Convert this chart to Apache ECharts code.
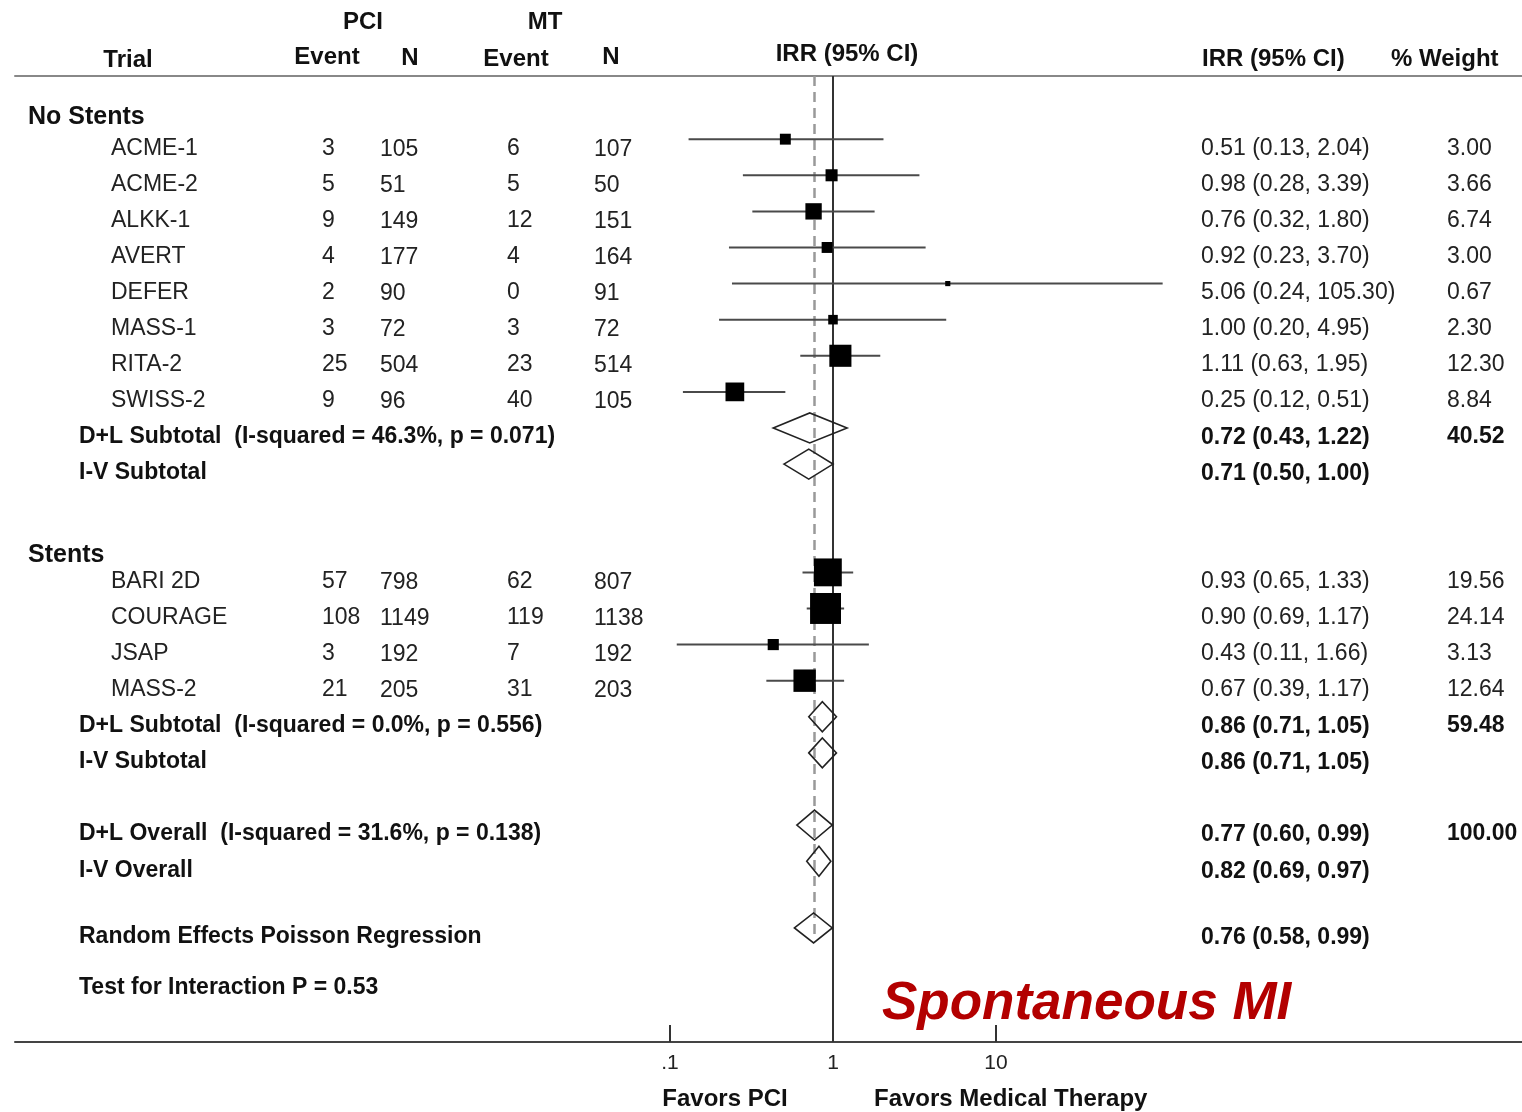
<!DOCTYPE html>
<html>
<head>
<meta charset="utf-8">
<script src="https://cdn.jsdelivr.net/npm/echarts@6/dist/echarts.min.js"></script>
<style>
  html, body { margin: 0; padding: 0; background: #fff; }
  #main { width: 1522px; height: 1112px; }
</style>
</head>
<body>
<div id="main"></div>
<script>
// ---- Trials without stents ----
const noStentTrials  = ['ACME-1', 'ACME-2', 'ALKK-1', 'AVERT', 'DEFER', 'MASS-1', 'RITA-2', 'SWISS-2'];
const noStentPciEvt  = [3, 5, 9, 4, 2, 3, 25, 9];
const noStentPciN    = [105, 51, 149, 177, 90, 72, 504, 96];
const noStentMtEvt   = [6, 5, 12, 4, 0, 3, 23, 40];
const noStentMtN     = [107, 50, 151, 164, 91, 72, 514, 105];
const noStentIrr     = [0.51, 0.98, 0.76, 0.92, 5.06, 1.00, 1.11, 0.25];
const noStentLo      = [0.13, 0.28, 0.32, 0.23, 0.24, 0.20, 0.63, 0.12];
const noStentHi      = [2.04, 3.39, 1.80, 3.70, 105.30, 4.95, 1.95, 0.51];
const noStentWeight  = [3.00, 3.66, 6.74, 3.00, 0.67, 2.30, 12.30, 8.84];

// ---- Trials with stents ----
const stentTrials    = ['BARI 2D', 'COURAGE', 'JSAP', 'MASS-2'];
const stentPciEvt    = [57, 108, 3, 21];
const stentPciN      = [798, 1149, 192, 205];
const stentMtEvt     = [62, 119, 7, 31];
const stentMtN       = [807, 1138, 192, 203];
const stentIrr       = [0.93, 0.90, 0.43, 0.67];
const stentLo        = [0.65, 0.69, 0.11, 0.39];
const stentHi        = [1.33, 1.17, 1.66, 1.17];
const stentWeight    = [19.56, 24.14, 3.13, 12.64];

// ---- Pooled estimates ----
const pooledLabels = [
  'D+L Subtotal  (I-squared = 46.3%, p = 0.071)',
  'I-V Subtotal',
  'D+L Subtotal  (I-squared = 0.0%, p = 0.556)',
  'I-V Subtotal',
  'D+L Overall  (I-squared = 31.6%, p = 0.138)',
  'I-V Overall',
  'Random Effects Poisson Regression'
];
const pooledIrr    = [0.72, 0.71, 0.86, 0.86, 0.77, 0.82, 0.76];
const pooledLo     = [0.43, 0.50, 0.71, 0.71, 0.60, 0.69, 0.58];
const pooledHi     = [1.22, 1.00, 1.05, 1.05, 0.99, 0.97, 0.99];
const pooledWeight = [40.52, null, 59.48, null, 100.00, null, null];

const interactionText = 'Test for Interaction P = 0.53';
const axisTickValues  = [0.1, 1, 10];
const axisTickLabels  = ['.1', '1', '10'];

// ---- Layout ----
const W = 1522, H = 1112;
const TOP = 76, AXIS_Y = 1042, ROW_PX = 36.1;
const PX_PER_DECADE = 163, X_TENTH = 670, X_TEN = 996, GRID_L = 15;
const yMax = (AXIS_Y - TOP) / ROW_PX;
const xMin = Math.pow(10, -1 - (X_TENTH - GRID_L) / PX_PER_DECADE);
const xMax = Math.pow(10, 1 + (W - X_TEN) / PX_PER_DECADE);

const noStentRow = i => 1.75 + i;
const stentRow = i => 13.75 + i;
const pooledRows = [9.75, 10.75, 17.75, 18.75, 20.75, 21.75, 23.6];
const TEXT_DY = 9;

const FONT = '"Liberation Sans", Arial, Helvetica, sans-serif';
const fmt = v => v.toFixed(2);
const ciText = (e, l, h) => `${fmt(e)} (${fmt(l)}, ${fmt(h)})`;

// Collect trial rows
const trialRows = [];
noStentTrials.forEach((t, i) => trialRows.push({
  name: t, pe: noStentPciEvt[i], pn: noStentPciN[i], me: noStentMtEvt[i], mn: noStentMtN[i],
  irr: noStentIrr[i], lo: noStentLo[i], hi: noStentHi[i], w: noStentWeight[i], row: noStentRow(i)
}));
stentTrials.forEach((t, i) => trialRows.push({
  name: t, pe: stentPciEvt[i], pn: stentPciN[i], me: stentMtEvt[i], mn: stentMtN[i],
  irr: stentIrr[i], lo: stentLo[i], hi: stentHi[i], w: stentWeight[i], row: stentRow(i)
}));

const chart = echarts.init(document.getElementById('main'), null, { renderer: 'canvas' });

const nearestTickLabel = v => {
  let best = 0, bd = Infinity;
  axisTickValues.forEach((t, i) => {
    const d = Math.abs(Math.log10(v) - Math.log10(t));
    if (d < bd) { bd = d; best = i; }
  });
  return axisTickLabels[best];
};

chart.setOption({
  animation: false,
  backgroundColor: '#fff',
  grid: { left: GRID_L, right: 0, top: TOP, bottom: H - AXIS_Y },
  xAxis: [{
    type: 'log', logBase: 10, min: xMin, max: xMax, position: 'bottom',
    axisLine: { show: true, onZero: false, lineStyle: { color: '#444', width: 2 } },
    axisTick: { show: true, inside: true, length: 17, customValues: axisTickValues,
                lineStyle: { color: '#333', width: 2 } },
    axisLabel: { show: true, customValues: axisTickValues, formatter: nearestTickLabel,
                 fontFamily: FONT, fontSize: 21, color: '#222', margin: 11 },
    splitLine: { show: false }, minorTick: { show: false }
  }, {
    type: 'log', logBase: 10, min: xMin, max: xMax, position: 'top',
    axisLine: { show: true, onZero: false, lineStyle: { color: '#888', width: 2 } },
    axisTick: { show: false }, axisLabel: { show: false }, splitLine: { show: false }
  }],
  yAxis: { type: 'value', inverse: true, min: 0, max: yMax, show: false },
  series: [
    {
      // reference lines: null effect and overall D+L estimate
      type: 'scatter', data: [], z: 1, silent: true,
      markLine: {
        z: 1, silent: true, symbol: ['none', 'none'], label: { show: false },
        data: [
          { xAxis: 1, lineStyle: { color: '#333', width: 2, type: 'solid' } },
          [
            { coord: [pooledIrr[4], 0], lineStyle: { color: '#999', width: 2.5, type: [10, 6] } },
            { coord: [pooledIrr[4], 23.8] }
          ]
        ]
      }
    },
    {
      // confidence interval whiskers
      type: 'custom', z: 2, silent: true,
      encode: { x: [0, 1], y: 2 },
      data: trialRows.map(r => [r.lo, r.hi, r.row]),
      renderItem: (params, api) => {
        const a = api.coord([api.value(0), api.value(2)]);
        const b = api.coord([api.value(1), api.value(2)]);
        return { type: 'line', shape: { x1: a[0], y1: a[1], x2: b[0], y2: b[1] },
                 style: { stroke: '#4a4a4a', lineWidth: 2 } };
      }
    },
    {
      // study estimates, box area proportional to weight
      type: 'scatter', z: 10, silent: true, symbol: 'rect',
      data: trialRows.map(r => [r.irr, r.row, r.w]),
      symbolSize: v => 6.3 * Math.sqrt(v[2]),
      itemStyle: { color: '#000', opacity: 1 }
    },
    {
      // pooled estimates as diamonds
      type: 'custom', z: 10, silent: true,
      encode: { x: [0, 1, 2], y: 3 },
      data: pooledIrr.map((e, i) => [e, pooledLo[i], pooledHi[i], pooledRows[i]]),
      renderItem: (params, api) => {
        const c = api.coord([api.value(0), api.value(3)]);
        const l = api.coord([api.value(1), api.value(3)]);
        const h = api.coord([api.value(2), api.value(3)]);
        const hh = 15;
        return { type: 'polygon',
                 shape: { points: [[l[0], c[1]], [c[0], c[1] - hh], [h[0], c[1]], [c[0], c[1] + hh]] },
                 style: { fill: 'none', stroke: '#222', lineWidth: 1.6 } };
      }
    }
  ]
});

// ---- Table text ----
const yPix = row => chart.convertToPixel({ yAxisIndex: 0 }, row);
const txt = (s, x, y, o = {}) => ({
  type: 'text', x, y, silent: true,
  style: {
    text: String(s),
    font: `${o.italic ? 'italic ' : ''}${o.bold ? 'bold ' : ''}${o.size || 23}px ${FONT}`,
    fill: o.color || '#222',
    textAlign: o.align || 'left', align: o.align || 'left',
    textVerticalAlign: 'middle', verticalAlign: 'middle'
  }
});

const COL = { name: 111, pe: 322, pn: 380, me: 507, mn: 594, ci: 1201, w: 1447, pooled: 79, section: 28 };
const els = [];

// headers
els.push(txt('PCI', 363, 22, { bold: true, size: 24, align: 'center', color: '#111' }));
els.push(txt('MT', 545, 22, { bold: true, size: 24, align: 'center', color: '#111' }));
els.push(txt('Trial', 128, 60, { bold: true, size: 24, align: 'center', color: '#111' }));
els.push(txt('Event', 327, 57, { bold: true, size: 24, align: 'center', color: '#111' }));
els.push(txt('N', 410, 58, { bold: true, size: 24, align: 'center', color: '#111' }));
els.push(txt('Event', 516, 59, { bold: true, size: 24, align: 'center', color: '#111' }));
els.push(txt('N', 611, 57, { bold: true, size: 24, align: 'center', color: '#111' }));
els.push(txt('IRR (95% CI)', 847, 54, { bold: true, size: 24, align: 'center', color: '#111' }));
els.push(txt('IRR (95% CI)', 1202, 59, { bold: true, size: 24, color: '#111' }));
els.push(txt('% Weight', 1391, 59, { bold: true, size: 24, color: '#111' }));

// section headers
els.push(txt('No Stents', COL.section, 117, { bold: true, size: 25, color: '#111' }));
els.push(txt('Stents', COL.section, 555, { bold: true, size: 25, color: '#111' }));

// trial rows
trialRows.forEach(r => {
  const y = yPix(r.row) + TEXT_DY;
  els.push(txt(r.name, COL.name, y));
  els.push(txt(r.pe, COL.pe, y));
  els.push(txt(r.pn, COL.pn, y + 1));
  els.push(txt(r.me, COL.me, y));
  els.push(txt(r.mn, COL.mn, y + 1));
  els.push(txt(ciText(r.irr, r.lo, r.hi), COL.ci, y));
  els.push(txt(fmt(r.w), COL.w, y));
});

// pooled rows
pooledLabels.forEach((lab, i) => {
  const y = yPix(pooledRows[i]) + TEXT_DY;
  els.push(txt(lab, COL.pooled, y, { bold: true, color: '#111' }));
  els.push(txt(ciText(pooledIrr[i], pooledLo[i], pooledHi[i]), COL.ci, y + 1, { bold: true, color: '#111' }));
  if (pooledWeight[i] !== null) els.push(txt(fmt(pooledWeight[i]), COL.w, y, { bold: true, color: '#111' }));
});

els.push(txt(interactionText, COL.pooled, 988, { bold: true, color: '#111' }));

// axis captions
els.push(txt('Favors PCI', 725, 1099, { bold: true, size: 24, align: 'center', color: '#111' }));
els.push(txt('Favors Medical Therapy', 874, 1099, { bold: true, size: 24, color: '#111' }));

// panel title
els.push(txt('Spontaneous MI', 882, 1004, { bold: true, italic: true, size: 53, color: '#b30000' }));

chart.setOption({ graphic: { elements: els } });
</script>
</body>
</html>
